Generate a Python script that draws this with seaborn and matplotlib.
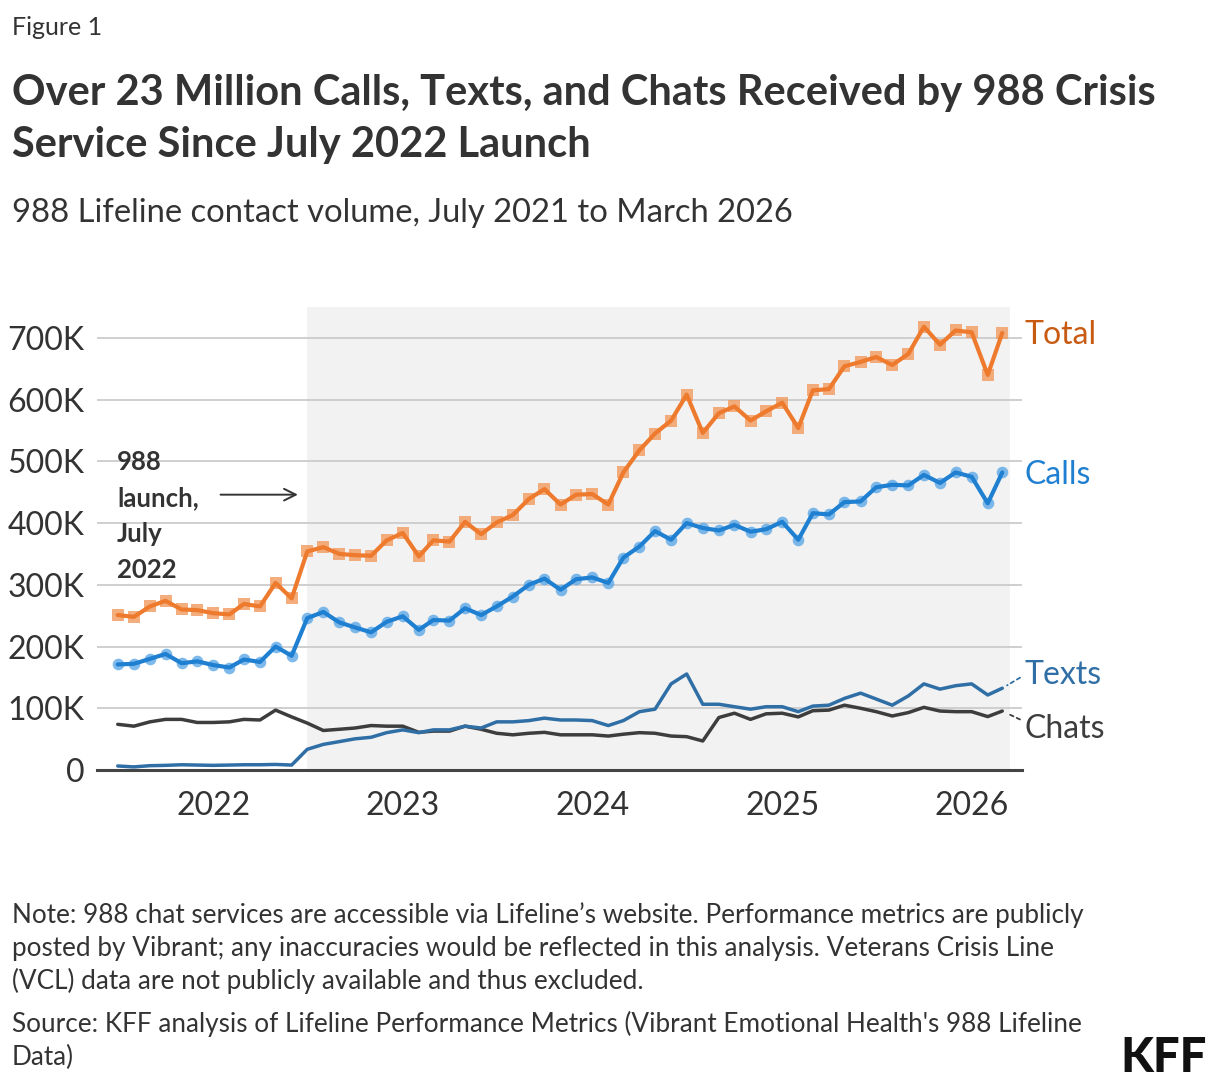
import matplotlib
matplotlib.use("Agg")
import matplotlib.pyplot as plt
import matplotlib.dates as mdates
import matplotlib.ticker as mticker
import pandas as pd
import seaborn as sns

# Monthly contact volume (thousands), July 2021 - March 2026
months = pd.date_range("2021-07-01", "2026-03-01", freq="MS")

total = [251, 248, 265, 274, 260, 259, 254, 252, 269, 265, 303, 278,
         354, 361, 350, 348, 347, 372, 384, 346, 372, 370, 402, 382,
         401, 413, 439, 455, 430, 446, 447, 430, 482, 518, 545, 566,
         608, 546, 578, 589, 566, 581, 595, 554, 615, 617, 654, 661,
         669, 656, 674, 718, 689, 712, 709, 640, 708]
calls = [171, 172, 180, 188, 173, 176, 170, 166, 179, 175, 200, 185,
         246, 256, 239, 231, 223, 240, 249, 227, 243, 242, 262, 251,
         265, 281, 300, 310, 292, 309, 312, 303, 344, 362, 387, 373,
         400, 392, 388, 397, 386, 390, 402, 373, 416, 414, 434, 435,
         458, 462, 461, 478, 465, 482, 475, 432, 482]
texts = [6.5, 5, 7, 7.5, 8.5, 8, 7.5, 8, 8.5, 8.5, 9, 8,
         33.5, 41.5, 46, 50.5, 53, 60.5, 65, 60.5, 65, 65, 71, 68,
         78, 78, 80, 84, 81, 81, 80, 72, 80, 94.5, 98.5, 139.5,
         155.5, 106.5, 106.5, 102.5, 98.5, 102.5, 102.5, 94.5, 103.5, 105, 116, 124.5,
         115, 105, 120, 139.5, 131, 136.5, 139.5, 121.5, 132.5]
chats = [74, 71, 78, 82, 82, 77, 77, 78, 82, 81, 97, 86,
         76, 64, 66, 68, 72, 71, 71, 61, 63, 63, 71, 66,
         59.5, 57, 59.5, 61, 57, 57, 57, 55, 58, 60.5, 59.5, 55,
         54, 47, 85, 92, 82, 91, 92, 86, 96, 97, 105, 100,
         94.5, 87.5, 93, 101.5, 95.5, 94.5, 94.5, 86.5, 95.5]

y_ticks = [0, 100, 200, 300, 400, 500, 600, 700]
launch_date = pd.Timestamp("2022-07-01")

df = pd.DataFrame({"month": months,
                   "Total": [v * 1000 for v in total],
                   "Calls": [v * 1000 for v in calls],
                   "Texts": [v * 1000 for v in texts],
                   "Chats": [v * 1000 for v in chats]})

sns.set_theme(style="white")
plt.rcParams["font.family"] = ["Lato", "DejaVu Sans"]
TXT = "#333333"

W, H = 1220, 1086
fig = plt.figure(figsize=(W / 100, H / 100), dpi=100)


def fx(px):
    return px / W


def fy(py):
    return 1 - py / H


ax = fig.add_axes([fx(97), fy(770), fx(1022) - fx(97), fy(307) - fy(770)])

# shaded post-launch period
ax.axvspan(launch_date, pd.Timestamp("2026-03-16"), color="#f2f2f2", zorder=0, lw=0)

# series: (name, line colour, marker colour, marker, width, label colour, label offset)
series = [
    ("Chats", "#3d3d3d", None, None, 2.5, "#3d3d3d", (16, -13)),
    ("Texts", "#2f6fa6", None, None, 2.5, "#2f6fa6", (16, 9.5)),
    ("Calls", "#1f7fd1", "#5ea8e6", "o", 3.0, "#1f7fd1", (16, -1.5)),
    ("Total", "#ee7a2e", "#f29a5c", "s", 3.0, "#c85a12", (16, -1.5)),
]

for name, lc, mc, mk, lw, tc, off in series:
    if mk:
        sns.scatterplot(data=df, x="month", y=name, marker=mk, s=70, color=mc,
                        alpha=0.8, linewidth=0, ax=ax, zorder=3)
    sns.lineplot(data=df, x="month", y=name, color=lc, lw=lw, ax=ax, zorder=4)
    last = (df["month"].iloc[-1], df[name].iloc[-1])
    if name in ("Texts", "Chats"):
        arrow = dict(arrowstyle="-", color=lc, lw=1.3, linestyle=(0, (2, 2)),
                     shrinkA=1, shrinkB=4,
                     relpos=(0, 0.5) if name == "Texts" else (0, 0.75))
    else:
        arrow = None
    ax.annotate(name, xy=last, xytext=off, textcoords="offset points",
                ha="left", va="center", fontsize=23, color=tc,
                arrowprops=arrow, annotation_clip=False)

# launch annotation
ax.annotate("", xy=(pd.Timestamp("2022-06-13"), 446000),
            xytext=(pd.Timestamp("2022-01-15"), 446000),
            arrowprops=dict(arrowstyle="->,head_length=0.7,head_width=0.35",
                            color=TXT, lw=1.4, shrinkA=0, shrinkB=0))
for i, line in enumerate(["988", "launch,", "July", "2022"]):
    fig.text(fx(117), fy(470 + 36 * i), line, fontsize=18.5, weight="bold",
             color=TXT, va="baseline", ha="left")

ax.set_xlim(pd.Timestamp("2021-05-22"), pd.Timestamp("2026-04-08"))
ax.set_ylim(0, 750000)
ax.set_yticks([v * 1000 for v in y_ticks])
ax.yaxis.set_major_formatter(mticker.FuncFormatter(
    lambda v, p: "0" if v == 0 else f"{int(v / 1000)}K"))
ax.xaxis.set_major_locator(mdates.YearLocator())
ax.xaxis.set_major_formatter(mdates.DateFormatter("%Y"))
ax.tick_params(axis="both", length=0, labelsize=23, labelcolor=TXT)
ax.tick_params(axis="y", pad=9)
ax.tick_params(axis="x", pad=15)
ax.set_xlabel("")
ax.set_ylabel("")
ax.yaxis.grid(True, color="#cccccc", lw=1.3)
ax.set_axisbelow(True)
for s in ["top", "left", "right"]:
    ax.spines[s].set_visible(False)
ax.spines["bottom"].set_color("#444444")
ax.spines["bottom"].set_linewidth(2.2)
ax.spines["bottom"].set_zorder(5)

# header
fig.text(fx(12), fy(35), "Figure 1", fontsize=18, color=TXT, va="baseline")
fig.text(fx(12), fy(105), "Over 23 Million Calls, Texts, and Chats Received by 988 Crisis",
         fontsize=30, weight="bold", color=TXT, va="baseline")
fig.text(fx(12), fy(157), "Service Since July 2022 Launch",
         fontsize=30, weight="bold", color=TXT, va="baseline")
fig.text(fx(12), fy(222), "988 Lifeline contact volume, July 2021 to March 2026",
         fontsize=23.6, color=TXT, va="baseline")

# footer
note_lines = [
    "Note: 988 chat services are accessible via Lifeline\u2019s website. Performance metrics are publicly",
    "posted by Vibrant; any inaccuracies would be reflected in this analysis. Veterans Crisis Line",
    "(VCL) data are not publicly available and thus excluded.",
]
source_lines = [
    "Source: KFF analysis of Lifeline Performance Metrics (Vibrant Emotional Health's 988 Lifeline",
    "Data)",
]
for i, line in enumerate(note_lines):
    fig.text(fx(12), fy(923 + 33 * i), line, fontsize=18.8, color=TXT, va="baseline")
for i, line in enumerate(source_lines):
    fig.text(fx(12), fy(1032 + 33 * i), line, fontsize=18.8, color=TXT, va="baseline")
fig.text(fx(1207), fy(1072), "KFF", fontsize=34, weight="black", color="#111111",
         va="baseline", ha="right")

fig.savefig("out.png", dpi=100)
